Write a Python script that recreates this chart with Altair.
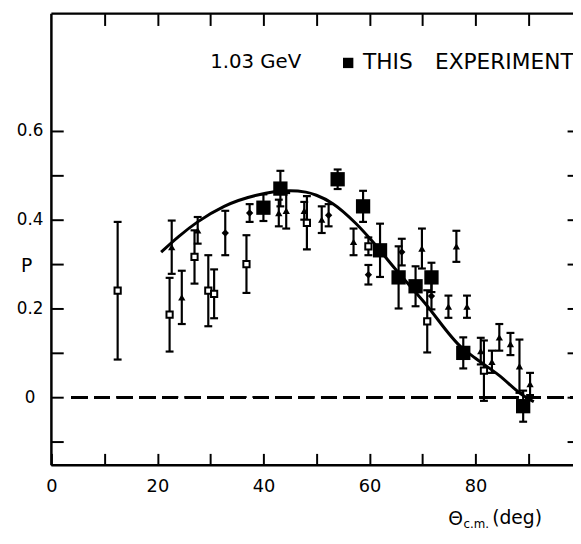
import altair as alt
import pandas as pd

# ---- data ----
# This experiment (filled squares)
exp_deg = [40.0, 43.2, 54.0, 58.8, 62.0, 65.5, 68.7, 71.7, 77.7, 89.0]
exp_P   = [0.427, 0.470, 0.491, 0.430, 0.331, 0.270, 0.250, 0.270, 0.100, -0.020]
exp_err = [0.030, 0.040, 0.022, 0.035, 0.060, 0.070, 0.045, 0.033, 0.035, 0.035]

# open squares
opn_deg = [12.5, 22.3, 27.0, 29.6, 30.7, 36.8, 48.2, 59.8, 70.9, 81.6]
opn_P   = [0.240, 0.186, 0.316, 0.240, 0.233, 0.300, 0.393, 0.340, 0.171, 0.060]
opn_err = [0.155, 0.083, 0.060, 0.080, 0.055, 0.065, 0.060, 0.020, 0.070, 0.068]

# triangles
tri_deg = [22.7, 24.6, 27.6, 42.9, 44.3, 47.7, 51.0, 57.0, 69.9, 76.4, 74.9, 78.4,
           81.0, 83.1, 84.5, 86.6, 88.3, 90.3]
tri_P   = [0.338, 0.225, 0.376, 0.415, 0.420, 0.420, 0.400, 0.350, 0.335, 0.340,
           0.204, 0.204, 0.104, 0.080, 0.135, 0.120, 0.070, 0.030]
tri_err = [0.060, 0.060, 0.030, 0.030, 0.040, 0.020, 0.030, 0.030, 0.045, 0.035,
           0.025, 0.025, 0.030, 0.025, 0.030, 0.025, 0.060, 0.025]

# diamonds
dia_deg = [32.8, 37.4, 52.3, 59.8, 66.1, 71.7]
dia_P   = [0.370, 0.415, 0.410, 0.276, 0.327, 0.228]
dia_err = [0.050, 0.020, 0.025, 0.022, 0.030, 0.030]

# fitted curve
fit_deg = [20.7, 24.0, 27.6, 32.6, 38.7, 45.0, 48.0, 50.0, 53.1, 57.4, 60.5, 64.8,
           70.4, 77.3, 80.0, 84.4, 89.0, 91.0]
fit_P   = [0.327, 0.362, 0.395, 0.430, 0.455, 0.465, 0.462, 0.455, 0.436, 0.392,
           0.352, 0.290, 0.213, 0.113, 0.088, 0.050, 0.004, -0.010]

x_ticks = [0, 10, 20, 30, 40, 50, 60, 70, 80, 90]
x_top_ticks = [10, 20, 30, 40, 50, 60, 70, 80, 90]
y_ticks = [-0.1, 0, 0.1, 0.2, 0.3, 0.4, 0.5, 0.6]

# ---- tables ----
def tbl(d, p, e):
    return pd.DataFrame({"deg": d, "P": p, "err": e})

exp_df = tbl(exp_deg, exp_P, exp_err)
opn_df = tbl(opn_deg, opn_P, opn_err)
tri_df = tbl(tri_deg, tri_P, tri_err)
dia_df = tbl(dia_deg, dia_P, dia_err)
all_df = pd.concat([opn_df, tri_df, dia_df, exp_df], ignore_index=True)
fit_df = pd.DataFrame({"deg": fit_deg, "P": fit_P})

W, H = 529, 458
FONT = "DejaVu Sans"
xs = alt.Scale(domain=[0, 98.4], nice=False, zero=False)
ys = alt.Scale(domain=[-0.153, 0.864], nice=False, zero=False)

ax_bottom = alt.Axis(orient="bottom", values=x_ticks, domain=False, grid=False,
                     tickSize=12, offset=-12, tickWidth=2, tickColor="black",
                     labelExpr="datum.value % 20 == 0 ? datum.label : ''",
                     labelFont=FONT, labelFontSize=18, labelColor="black",
                     labelPadding=13, labelFlush=False, labelOverlap=False, title=None)
ax_left = alt.Axis(orient="left", values=y_ticks, domain=False, grid=False,
                   tickSize=12, offset=-12, tickWidth=2, tickColor="black",
                   labelExpr="indexof([0, 0.2, 0.4, 0.6], datum.value) >= 0 ? (datum.value == 0 ? '0' : format(datum.value, '.1f')) : ''",
                   labelFont=FONT, labelFontSize=17, labelColor="black",
                   labelAlign="center", labelPadding=22,
                   labelFlush=False, labelOverlap=False, title=None)
ax_top = alt.Axis(orient="top", values=x_top_ticks, domain=False, grid=False,
                  tickSize=12, offset=-12, tickWidth=2, tickColor="black",
                  labels=False, title=None)
ax_right = alt.Axis(orient="right", values=y_ticks, domain=False, grid=False,
                    tickSize=6, offset=-6, tickWidth=2, tickColor="black",
                    labels=False, title=None)

base = alt.Chart(all_df).transform_calculate(lo="datum.P - datum.err",
                                             hi="datum.P + datum.err")
bars = base.mark_rule(color="black", strokeWidth=2.2).encode(
    x=alt.X("deg:Q", scale=xs, axis=ax_bottom),
    y=alt.Y("lo:Q", scale=ys, axis=ax_left),
    y2="hi:Q",
)
cap_lo = base.mark_tick(orient="horizontal", color="black", size=8, thickness=2.2,
                        opacity=1).encode(
    x=alt.X("deg:Q", scale=xs, axis=None), y=alt.Y("lo:Q", scale=ys, axis=None))
cap_hi = base.mark_tick(orient="horizontal", color="black", size=8, thickness=2.2,
                        opacity=1).encode(
    x=alt.X("deg:Q", scale=xs, axis=None), y=alt.Y("hi:Q", scale=ys, axis=None))

curve = alt.Chart(fit_df).mark_line(color="black", strokeWidth=3,
                                    interpolate="monotone").encode(
    x=alt.X("deg:Q", scale=xs, axis=ax_top),
    y=alt.Y("P:Q", scale=ys, axis=ax_right),
)

zero = alt.Chart(fit_df).mark_rule(color="black", strokeWidth=2.5,
                                   strokeDash=[16, 7]).encode(
    x=alt.X(datum=3.8, scale=xs, axis=None),
    x2=alt.X2(datum=98.4),
    y=alt.Y(datum=0, scale=ys, axis=None))

pts_exp = alt.Chart(exp_df).mark_point(shape="square", filled=True, size=210,
                                       color="black", opacity=1).encode(
    x=alt.X("deg:Q", scale=xs, axis=None), y=alt.Y("P:Q", scale=ys, axis=None))
pts_opn = alt.Chart(opn_df).mark_point(shape="square", filled=True, fill="white",
                                       stroke="black", strokeWidth=2, size=40,
                                       opacity=1).encode(
    x=alt.X("deg:Q", scale=xs, axis=None), y=alt.Y("P:Q", scale=ys, axis=None))
pts_tri = alt.Chart(tri_df).mark_point(shape="triangle-up", filled=True, size=55,
                                       color="black", opacity=1).encode(
    x=alt.X("deg:Q", scale=xs, axis=None), y=alt.Y("P:Q", scale=ys, axis=None))
pts_dia = alt.Chart(dia_df).mark_point(shape="diamond", filled=True, size=55,
                                       color="black", opacity=1).encode(
    x=alt.X("deg:Q", scale=xs, axis=None), y=alt.Y("P:Q", scale=ys, axis=None))

frame_src = pd.DataFrame({"k": [0]})
frame_left = alt.Chart(frame_src).mark_rule(color="black", strokeWidth=2.5).encode(
    x=alt.value(0), y=alt.value(0), y2=alt.value(H))
frame_top = alt.Chart(frame_src).mark_rule(color="black", strokeWidth=2.5).encode(
    x=alt.value(0), x2=alt.value(W), y=alt.value(0))
frame_bottom = alt.Chart(frame_src).mark_rule(color="black", strokeWidth=2.5).encode(
    x=alt.value(0), x2=alt.value(W), y=alt.value(H))

def txt(s, x, y, size, align="left", baseline="middle"):
    return alt.Chart(frame_src).mark_text(text=s, align=align, baseline=baseline,
                                          font=FONT, fontSize=size,
                                          color="black").encode(
        x=alt.value(x), y=alt.value(y))

legend_sq = alt.Chart(frame_src).mark_point(shape="square", filled=True, size=110,
                                            color="black", opacity=1).encode(
    x=alt.value(301), y=alt.value(50))

texts = [
    txt("1.03  GeV", 161, 49, 20),
    txt("THIS", 316, 49, 22),
    txt("EXPERIMENT", 389, 49, 22),
    txt("P", -25, 256, 19, align="center"),
    txt("Θ", 410, 513, 19, align="center"),
    txt("c.m.", 418, 522, 12, baseline="alphabetic"),
    txt("(deg)", 447, 512, 19),
]

chart = alt.layer(
    zero, bars, cap_lo, cap_hi, curve, pts_opn, pts_tri, pts_dia, pts_exp,
    frame_left, frame_top, frame_bottom, legend_sq, *texts
).resolve_axis(x="independent", y="independent").properties(
    width=W, height=H,
    autosize=alt.AutoSizeParams(type="none"),
    padding={"left": 44, "top": 2, "right": 0, "bottom": 64},
).configure_view(stroke=None).configure(background="white")

chart.save("out.html", embed_options={"renderer": "svg", "actions": False})
